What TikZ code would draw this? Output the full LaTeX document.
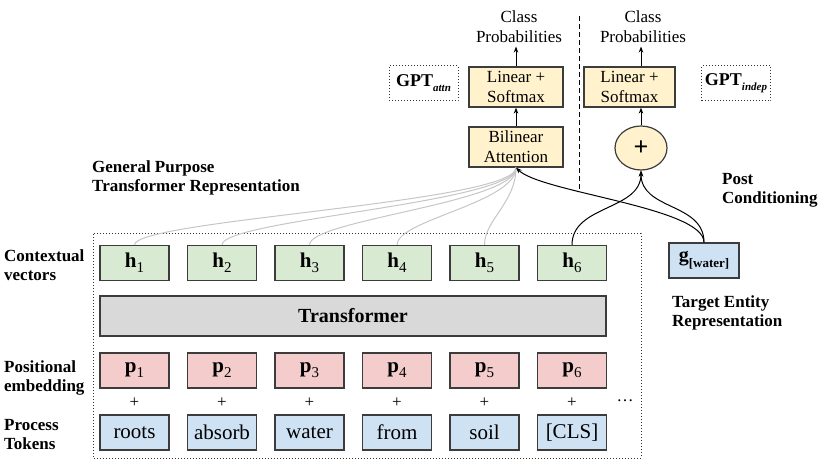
\documentclass[tikz,border=0pt]{standalone}
\usepackage{fontspec}
\setmainfont{Liberation Serif}
\usetikzlibrary{arrows.meta,positioning,shapes.geometric,calc}
\definecolor{ctxgreen}{RGB}{217,234,211}
\definecolor{posred}{RGB}{244,204,204}
\definecolor{tokblue}{RGB}{207,226,243}
\definecolor{trfgray}{RGB}{217,217,217}
\definecolor{headyellow}{RGB}{255,242,204}
\definecolor{edgegray}{RGB}{60,60,60}
% vector with lowered index
\newcommand{\vecsub}[2]{\textbf{#1}\raisebox{-5pt}{\fontsize{15}{15}\selectfont #2}}

\begin{document}
\begin{tikzpicture}[x=1pt, y=-1pt,
  font=\fontsize{17}{20}\selectfont,
  cell/.style={draw=edgegray, line width=1.2pt, minimum width=69pt, minimum height=35pt, inner sep=0pt, font=\fontsize{21}{24}\selectfont},
  head/.style={draw=edgegray, line width=1.2pt, fill=headyellow, minimum width=94pt, minimum height=40pt, align=center, inner sep=0pt},
  lbl/.style={font=\fontsize{17}{19}\selectfont\bfseries, align=left, anchor=west, inner sep=0pt},
  tag/.style={draw=black!80, dotted, line width=1pt, minimum width=69pt, minimum height=35pt, inner sep=0pt, font=\fontsize{18}{20}\selectfont\bfseries},
  arr/.style={-{Stealth[length=6pt,width=4.5pt]}, line width=1pt},
  feed/.style={gray!45, line width=1pt},
]
\useasboundingbox (0,0) rectangle (830,470);

% input columns
\foreach \i/\tok in {1/roots,2/absorb,3/water,4/from,5/soil,6/{[CLS]}} {
  \pgfmathsetmacro\x{134.5+(\i-1)*87.5}
  \node[cell, fill=ctxgreen] (h\i) at (\x,263) {\vecsub{h}{\i}};
  \node[cell, fill=posred] (p\i) at (\x,370.5) {\vecsub{p}{\i}};
  \node (plus\i) at (\x,403) {+};
  \node[cell, fill=tokblue] (t\i) at (\x,432.5) {\tok};
}
\node (dots) at (625,401) {\ldots};
\node[cell, fill=trfgray, minimum width=506pt, minimum height=40pt, font=\fontsize{20}{24}\selectfont\bfseries] (trf) at (353,316) {Transformer};
\draw[dotted, line width=1pt, black!80] (93,234) rectangle (641,458);

\node[cell, fill=tokblue, minimum width=70pt, font=\fontsize{20}{24}\selectfont\bfseries] (g) at (704,260.5) {g\raisebox{-6pt}{\fontsize{13}{13}\selectfont [water]}};

% heads
\node[head] (att) at (516,147) {Bilinear\\Attention};
\node[head] (lin1) at (516,87) {Linear +\\Softmax};
\node[head, minimum width=91pt] (lin2) at (629.5,87) {Linear +\\Softmax};
\node[draw=edgegray, line width=1.2pt, fill=headyellow, ellipse, minimum width=52pt, minimum height=44pt, inner sep=0pt, font=\fontsize{26}{26}\selectfont\bfseries] (sum) at (641,148) {+};
\node[align=center] (cp1) at (519,27) {Class\\Probabilities};
\node[align=center] (cp2) at (643,27) {Class\\Probabilities};
\node[tag] (gptattn) at (423.5,83.5) {GPT\raisebox{-5pt}{\fontsize{11}{11}\selectfont\itshape attn}};
\node[tag] (gptindep) at (736,83.5) {GPT\raisebox{-5pt}{\fontsize{11}{11}\selectfont\itshape indep}};
\draw[dash pattern=on 5pt off 3pt, line width=1pt] (579,16) -- (579,190);

% side labels
\node[lbl] (ctxlbl) at (4,265) {Contextual\\vectors};
\node[lbl] (poslbl) at (4,378) {Positional\\embedding};
\node[lbl] (toklbl) at (4,435) {Process\\Tokens};
\node[lbl] (gprlbl) at (92,178) {General Purpose\\Transformer Representation};
\node[lbl] (tgtlbl) at (672,313) {Target Entity\\Representation};
\node[lbl] (postlbl) at (722,190) {Post\\Conditioning};

% connections
\foreach \i in {1,...,5}
  \draw[feed] (h\i.north) .. controls +(0,-25) and +(0,35) .. (att.south);
\draw[arr] (g.north) .. controls +(0,-35) and +(25,25) .. (att.south);
\draw[arr] (h6.north) .. controls +(0,-40) and +(0,40) .. (sum.south);
\draw[arr] (g.north) .. controls +(0,-40) and +(0,40) .. (sum.south);
\draw[arr] (att) -- (lin1);
\draw[arr] (lin1.north) -- (lin1.north |- cp1.south);
\draw[arr] (sum) -- (sum |- lin2.south);
\draw[arr] (sum |- lin2.north) -- (sum |- cp2.south);
\end{tikzpicture}
\end{document}
